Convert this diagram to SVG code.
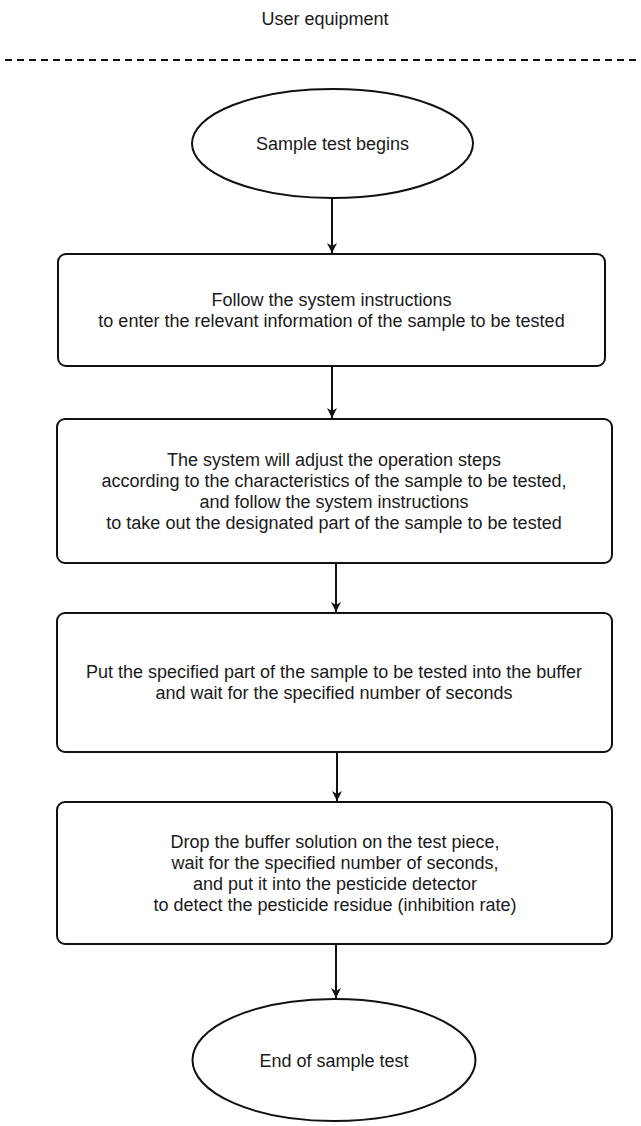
<svg xmlns="http://www.w3.org/2000/svg" width="641" height="1126" viewBox="0 0 641 1126">
<defs>
<style>
.t{font-family:"Liberation Sans",Arial,sans-serif;font-size:18px;fill:#1a1a1a;text-anchor:middle}
.shape{fill:#fff;stroke:#111;stroke-width:2}
.edge{stroke:#111;stroke-width:2;fill:none}
</style>
<marker id="arr" viewBox="0 0 10 10" refX="10" refY="5" markerWidth="10" markerHeight="10" markerUnits="userSpaceOnUse" orient="auto">
<path d="M0,0 L10,5 L0,10 L3,5 Z" fill="#111"/>
</marker>
</defs>
<rect width="641" height="1126" fill="#fff"/>
<g id="header">
<text class="t" x="325" y="25">User equipment</text>
<line x1="5" y1="60" x2="641" y2="60" stroke="#111" stroke-width="2" stroke-dasharray="7 5"/>
</g>
<g id="connectors">
<line class="edge" x1="332" y1="198" x2="332" y2="253" marker-end="url(#arr)"/>
<line class="edge" x1="332" y1="366" x2="332" y2="418" marker-end="url(#arr)"/>
<line class="edge" x1="336" y1="563" x2="336" y2="612" marker-end="url(#arr)"/>
<line class="edge" x1="337" y1="752" x2="337" y2="801" marker-end="url(#arr)"/>
<line class="edge" x1="336" y1="944" x2="336" y2="998" marker-end="url(#arr)"/>
</g>
<g id="start">
<ellipse class="shape" cx="332.5" cy="143.5" rx="140.5" ry="54.5"/>
<text class="t" x="332.5" y="150">Sample test begins</text>
</g>
<g id="step1">
<rect class="shape" x="58" y="254" width="547" height="112" rx="8"/>
<text class="t" x="331.5" y="305.5">Follow the system instructions</text>
<text class="t" x="331.5" y="326.5">to enter the relevant information of the sample to be tested</text>
</g>
<g id="step2">
<rect class="shape" x="57" y="419" width="555" height="144" rx="8"/>
<text class="t" x="334" y="465.5">The system will adjust the operation steps</text>
<text class="t" x="334" y="486.5">according to the characteristics of the sample to be tested,</text>
<text class="t" x="334" y="507.5">and follow the system instructions</text>
<text class="t" x="334" y="528.5">to take out the designated part of the sample to be tested</text>
</g>
<g id="step3">
<rect class="shape" x="57" y="613" width="555" height="139" rx="8"/>
<text class="t" x="334" y="678">Put the specified part of the sample to be tested into the buffer</text>
<text class="t" x="334" y="699">and wait for the specified number of seconds</text>
</g>
<g id="step4">
<rect class="shape" x="57" y="802" width="555" height="142" rx="8"/>
<text class="t" x="335" y="847.5">Drop the buffer solution on the test piece,</text>
<text class="t" x="335" y="868.5">wait for the specified number of seconds,</text>
<text class="t" x="335" y="889.5">and put it into the pesticide detector</text>
<text class="t" x="335" y="910.5">to detect the pesticide residue (inhibition rate)</text>
</g>
<g id="end">
<ellipse class="shape" cx="334" cy="1060" rx="141.5" ry="61"/>
<text class="t" x="334" y="1067">End of sample test</text>
</g>
</svg>
